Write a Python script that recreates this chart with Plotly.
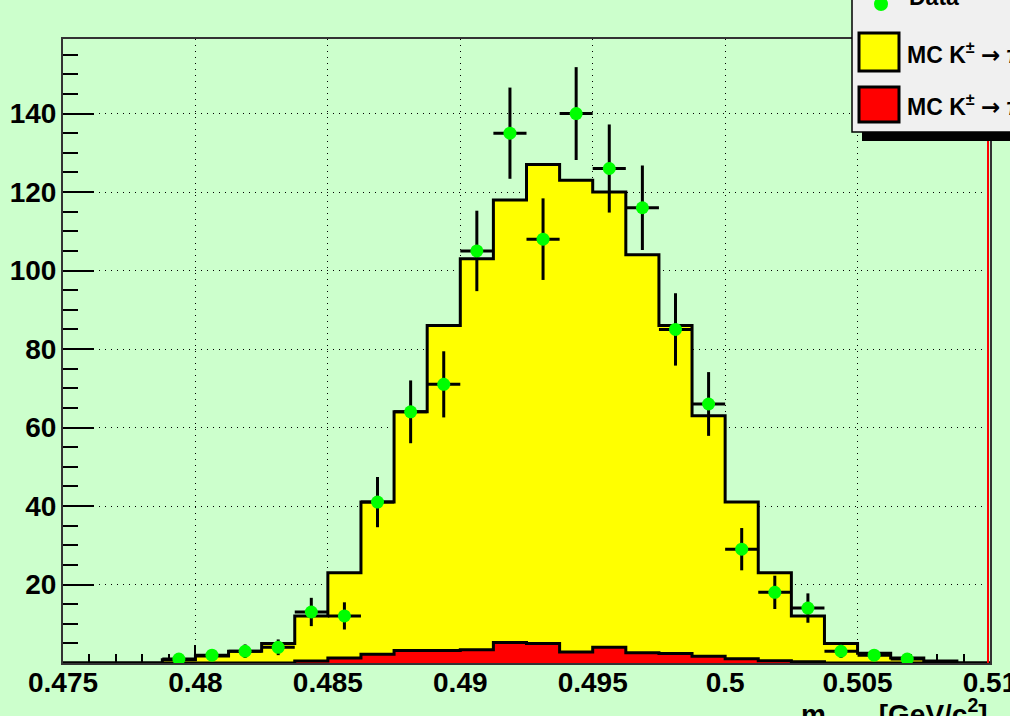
import numpy as np
import plotly.graph_objects as go

# Binning of the invariant-mass histograms (GeV/c^2)
bin_edges = [0.475, 0.47625, 0.4775, 0.47875, 0.48, 0.48125, 0.4825, 0.48375,
             0.485, 0.48625, 0.4875, 0.48875, 0.49, 0.49125, 0.4925, 0.49375,
             0.495, 0.49625, 0.4975, 0.49875, 0.5, 0.50125, 0.5025, 0.50375,
             0.505, 0.50625, 0.5075, 0.50875, 0.51]

# Stacked MC (total, yellow) per bin
mc_total = [0, 0, 0, 0.8, 1.8, 3, 5, 12, 23, 41, 64, 86, 103, 118, 127, 123,
            120, 104, 86, 63, 41, 23, 12, 5, 2.5, 1.3, 0.5, 0]
# Second MC component (red) per bin
mc_other = [0, 0, 0, 0, 0, 0, 0, 0.5, 1.3, 2.2, 3.2, 3.2, 3.4, 5.2, 5.0, 2.8,
            4.0, 2.6, 2.4, 1.7, 1.1, 0.6, 0.3, 0, 0, 0, 0, 0]
# Observed events per bin
data_counts = [0, 0, 0, 1, 2, 3, 4, 13, 12, 41, 64, 71, 105, 135, 108, 140,
               126, 116, 85, 66, 29, 18, 14, 3, 2, 1, 0, 0]

x_tickvals = [0.475, 0.48, 0.485, 0.49, 0.495, 0.5, 0.505, 0.51]
x_ticktext = ["0.475", "0.48", "0.485", "0.49", "0.495", "0.5", "0.505", "0.51"]
y_tickvals = [20, 40, 60, 80, 100, 120, 140]
y_ticktext = ["20", "40", "60", "80", "100", "120", "140"]

ARROW = '<span style="font-family:DejaVu Sans">→</span>'
legend_labels = ["Data",
                 "MC K<sup>±</sup> " + ARROW + " π<sup>±</sup>π<sup>+</sup>π<sup>−</sup>",
                 "MC K<sup>±</sup> " + ARROW + " π<sup>±</sup>π<sup>0</sup>π<sup>0</sup>"]

BG = "#ccffcc"
W, H = 1010, 716
L, R, T, B = 63, 20, 39, 53
PW, PH = W - L - R, H - T - B


def px_x(p):
    return (p - L) / PW


def px_y(p):
    return (H - B - p) / PH


def step_outline(edges, vals):
    xs = [edges[0]] + list(edges[:-1]) + [edges[-1], edges[-1]]
    ys = [0] + list(vals) + [vals[-1], 0]
    return xs, ys


edges = np.array(bin_edges)
centers = 0.5 * (edges[:-1] + edges[1:])
half_w = 0.5 * (edges[1:] - edges[:-1])
counts = np.array(data_counts, dtype=float)
mask = counts > 0

fig = go.Figure()

xs, ys = step_outline(bin_edges, mc_total)
fig.add_trace(go.Scatter(x=xs, y=ys, mode="lines", line_shape="hv",
                         line=dict(color="black", width=3),
                         fill="tozeroy", fillcolor="#ffff00",
                         hoverinfo="skip", showlegend=False))

xs, ys = step_outline(bin_edges, mc_other)
fig.add_trace(go.Scatter(x=xs, y=ys, mode="lines", line_shape="hv",
                         line=dict(color="black", width=3),
                         fill="tozeroy", fillcolor="#ff0000",
                         hoverinfo="skip", showlegend=False))

fig.add_trace(go.Scatter(
    x=centers[mask], y=counts[mask], mode="markers",
    marker=dict(color="#00ff00", size=13, symbol="circle"),
    error_x=dict(type="data", array=half_w[mask], color="black",
                 thickness=3, width=0),
    error_y=dict(type="data", array=np.sqrt(counts[mask]), color="black",
                 thickness=3, width=0),
    showlegend=False))

tick_font = dict(family="Liberation Sans", size=28, color="black", weight="bold")

fig.update_xaxes(range=[bin_edges[0], bin_edges[-1]], tickmode="array",
                 tickvals=x_tickvals, ticktext=x_ticktext,
                 ticks="inside", ticklen=18, tickwidth=1.5, tickcolor="black",
                 minor=dict(ticks="inside", ticklen=9, tickwidth=1.5,
                            tickcolor="black", dtick=0.001, tick0=0.475,
                            showgrid=False),
                 showgrid=True, gridcolor="black", gridwidth=1,
                 griddash="1px,5px",
                 showline=True, linecolor="#333333", linewidth=2, mirror=True,
                 zeroline=False, tickfont=tick_font, layer="below traces",
                 ticklabelstandoff=-7, ticklabeloverflow="allow",
                 automargin=False)

fig.update_yaxes(range=[0, 159], tickmode="array",
                 tickvals=y_tickvals, ticktext=y_ticktext,
                 ticks="inside", ticklen=31, tickwidth=1.5, tickcolor="black",
                 minor=dict(ticks="inside", ticklen=15, tickwidth=1.5,
                            tickcolor="black", dtick=5, tick0=0,
                            showgrid=False),
                 showgrid=True, gridcolor="black", gridwidth=1,
                 griddash="1px,5px",
                 showline=True, linecolor="#333333", linewidth=2, mirror=True,
                 zeroline=False, tickfont=tick_font, layer="below traces",
                 ticklabelstandoff=-1, ticklabeloverflow="allow",
                 automargin=False)

shapes = [
    # red edge line along the right side of the frame
    dict(type="line", xref="paper", yref="paper", x0=px_x(988), x1=px_x(988),
         y0=0, y1=1, line=dict(color="#ff0000", width=2), layer="above"),
    # legend shadow and box
    dict(type="rect", xref="paper", yref="paper",
         x0=px_x(862), x1=px_x(1020), y0=px_y(141), y1=px_y(132),
         fillcolor="black", line=dict(width=0), layer="above"),
    dict(type="rect", xref="paper", yref="paper",
         x0=px_x(852), x1=px_x(1020), y0=px_y(132), y1=px_y(-10),
         fillcolor="#f0f0f0", line=dict(color="black", width=1.5),
         layer="above"),
    # legend swatches
    dict(type="rect", xref="paper", yref="paper",
         x0=px_x(859), x1=px_x(899), y0=px_y(71), y1=px_y(33),
         fillcolor="#ffff00", line=dict(color="black", width=3),
         layer="above"),
    dict(type="rect", xref="paper", yref="paper",
         x0=px_x(859), x1=px_x(899), y0=px_y(122), y1=px_y(87),
         fillcolor="#ff0000", line=dict(color="black", width=3),
         layer="above"),
    dict(type="circle", xref="paper", yref="paper",
         x0=px_x(874), x1=px_x(888), y0=px_y(11), y1=px_y(-3),
         fillcolor="#00ff00", line=dict(width=0), layer="above"),
]

leg_font = dict(family="Liberation Sans", size=23, color="black", weight="bold")
annotations = [
    dict(text=legend_labels[0], xref="paper", yref="paper", x=px_x(907),
         y=px_y(-3), xanchor="left", yanchor="middle", showarrow=False,
         font=leg_font),
    dict(text=legend_labels[1], xref="paper", yref="paper", x=px_x(905),
         y=px_y(53), xanchor="left", yanchor="middle", showarrow=False,
         font=leg_font),
    dict(text=legend_labels[2], xref="paper", yref="paper", x=px_x(905),
         y=px_y(105), xanchor="left", yanchor="middle", showarrow=False,
         font=leg_font),
    # x axis title
    dict(text="m<sub>πππ</sub> [GeV/c<sup>2</sup>]", xref="paper",
         yref="paper", x=1, y=px_y(692), xanchor="right", yanchor="top",
         showarrow=False,
         font=dict(family="Liberation Sans", size=28, color="black",
                   weight="bold")),
]

fig.update_layout(width=W, height=H,
                  margin=dict(l=L, r=R, t=T, b=B, pad=0),
                  paper_bgcolor=BG, plot_bgcolor=BG,
                  shapes=shapes, annotations=annotations,
                  showlegend=False, hovermode=False)

fig.write_html("out.html")
